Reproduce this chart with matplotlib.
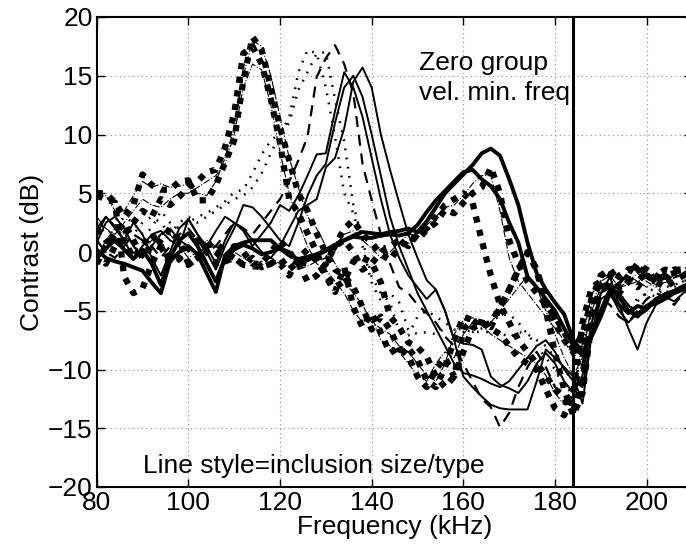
#!/usr/bin/env python3
"""Contrast vs frequency for several inclusion sizes/types."""

import matplotlib

matplotlib.use("Agg")
import matplotlib.pyplot as plt
import numpy as np

plt.rcParams["font.family"] = ["Liberation Sans", "DejaVu Sans"]

# frequency grid (kHz), one sample every 2 kHz from 80 to 210
FREQ = np.arange(80, 212, 2)

# thick solid curves
SOLID_THICK_A = [
    0.2, -0.5, -0.8, -1.0, -1.3, -1.6, -2.6, -3.5, -0.8, 0.0, 0.5,
    -0.2, -1.8, -3.4, -0.3, 0.5, 0.8, 1.0, 1.0, 1.0, 0.3, -0.3,
    -0.6, -0.4, -0.2, 0.2, 0.6, 1.0, 1.4, 1.7, 1.6, 1.5, 1.7,
    1.8, 2.0, 1.7, 2.6, 3.8, 5.0, 5.8, 6.6, 7.4, 8.4, 8.8,
    8.2, 6.2, 4.0, 0.8, -1.8, -3.2, -4.3, -5.3, -7.5, -8.5, -7.2,
    -5.5, -3.5, -4.5, -5.2, -4.6, -4.8, -4.0, -3.6, -3.3, -2.9, -2.6,
]
SOLID_THICK_B = [
    -0.5, 0.3, 1.0, 0.2, -0.6, 0.2, -1.0, -2.8, -0.5, 1.0, 1.6,
    0.5, -1.0, -2.5, -0.5, 0.2, 0.6, 0.3, -0.2, 0.0, 0.3, 0.0,
    -0.8, -0.7, -0.3, 0.1, 0.5, 1.0, 1.3, 1.2, 1.2, 1.4, 1.5,
    1.4, 1.6, 2.3, 3.4, 4.4, 5.2, 6.0, 6.8, 7.0, 6.2, 5.6,
    4.5, 2.5, 0.8, -2.1, -3.0, -4.0, -5.0, -6.5, -8.0, -8.8, -7.0,
    -5.0, -3.2, -3.8, -5.0, -5.5, -4.6, -4.4, -4.0, -3.5, -3.2, -3.0,
]

# thin solid curves
SOLID_THIN_A = [
    2.0, 3.0, 2.2, 1.0, -0.5, 0.5, 1.5, 1.8, 1.0, 0.5, 2.8,
    1.5, 0.5, -1.0, 1.0, 2.5, 1.8, 0.5, 1.5, 2.5, 4.0, 3.5,
    4.8, 6.5, 8.3, 8.4, 12.0, 15.3, 14.0, 11.5, 8.0, 4.5, 1.5,
    -0.5, -2.0, -3.0, -4.0, -3.2, -5.0, -7.5, -10.6, -11.5, -12.3, -13.0,
    -13.3, -13.4, -13.4, -13.4, -11.0, -8.3, -9.0, -9.8, -10.6, -12.9, -7.0,
    -3.5, -2.1, -4.5, -6.5, -8.3, -6.0, -4.5, -3.8, -4.2, -3.5, -3.0,
]
SOLID_THIN_B = [
    0.8, 2.5, 3.0, 2.0, 0.5, -0.5, 0.5, 1.5, 2.0, 1.0, 0.5,
    -0.2, 0.5, 1.8, 3.0, 2.5, 2.0, 1.0, 0.0, -0.5, 0.5, 2.0,
    3.5, 4.0, 4.5, 7.2, 8.0, 10.5, 14.5, 15.7, 14.0, 10.0, 7.0,
    4.2, 1.5, -0.5, -2.4, -3.2, -5.0, -7.5, -7.8, -7.9, -8.3, -10.6,
    -11.3, -11.6, -12.0, -11.0, -9.5, -8.6, -9.5, -11.0, -12.0, -10.5, -6.0,
    -3.5, -3.0, -3.5, -4.5, -5.5, -5.0, -4.2, -3.5, -3.3, -3.0, -2.5,
]
SOLID_THIN_C = [
    1.5, 3.0, 2.0, 1.0, 2.5, 1.5, -0.5, -2.0, 0.0, 2.0, 2.8,
    1.5, 0.0, -1.5, 0.5, 2.0, 4.0, 3.8, 3.0, 2.0, 1.0, 0.5,
    2.5, 4.8, 6.5, 7.5, 11.0, 14.0, 15.0, 13.2, 10.0, 6.5, 3.0,
    0.5, -1.5, -3.5, -5.0, -6.5, -8.0, -9.5, -10.3, -10.5, -10.8, -11.2,
    -11.5, -11.0, -10.0, -9.0, -8.0, -7.5, -8.5, -10.0, -11.0, -11.5, -7.0,
    -4.0, -3.5, -5.0, -6.0, -5.2, -4.5, -4.0, -3.8, -3.3, -3.2, -2.9,
]

# thin dashed curve
DASHED = [
    1.0, 0.0, -0.5, 0.5, 1.5, 1.0, 0.5, -0.5, 0.5, 1.5, 2.0,
    1.0, 0.0, 0.5, 1.5, 2.5, 2.0, 1.5, 2.5, 3.5, 4.5, 6.0,
    7.8, 9.8, 14.9, 16.5, 17.6, 16.0, 13.5, 7.5, 4.4, 1.5, -1.0,
    -3.0, -3.5, -4.5, -5.2, -6.0, -7.2, -8.0, -9.5, -11.0, -12.5, -13.2,
    -14.9, -13.7, -11.5, -9.8, -8.5, -9.8, -11.5, -12.0, -12.5, -9.5, -6.0,
    -4.0, -4.5, -5.5, -6.0, -5.0, -4.0, -3.5, -3.8, -4.5, -3.5, -3.0,
]

# fine dotted curves
DOTTED_A = [
    2.5, 1.5, 2.0, 3.0, 2.5, 1.5, 2.0, 3.5, 2.5, 2.0, 2.5,
    3.0, 3.3, 3.8, 4.3, 5.1, 5.3, 6.7, 8.3, 9.5, 10.1, 11.4,
    15.3, 17.2, 16.9, 14.0, 9.8, 5.0, 3.3, 0.5, -2.6, -4.2, -3.5,
    -4.3, -6.6, -7.0, -6.8, -7.0, -6.5, -6.5, -6.6, -6.8, -6.8, -6.8,
    -6.8, -7.3, -6.8, -7.0, -7.5, -8.0, -9.0, -10.0, -11.0, -9.0, -5.0,
    -3.0, -2.5, -3.5, -4.5, -4.0, -3.5, -3.0, -3.5, -3.0, -2.5, -2.5,
]
DOTTED_B = [
    1.5, 2.5, 3.0, 2.0, 1.5, 2.5, 3.0, 2.5, 1.5, 2.5, 3.0,
    2.5, 3.0, 3.5, 4.0, 4.5, 4.8, 5.5, 6.7, 8.4, 10.0, 11.0,
    13.8, 15.3, 16.9, 17.0, 13.0, 9.4, 4.0, 1.0, -2.1, -3.5, -4.3,
    -6.8, -7.1, -5.5, -5.0, -5.5, -6.0, -6.6, -6.8, -6.8, -6.5, -6.0,
    -5.4, -5.3, -6.0, -7.0, -8.0, -9.0, -10.0, -11.5, -12.0, -8.0, -4.0,
    -2.5, -3.0, -4.0, -5.0, -4.2, -3.5, -3.8, -3.0, -2.8, -2.5, -2.2,
]

# thick dotted curves
THICK_DOT_A = [
    5.0, 5.0, 4.2, 3.0, 4.0, 6.6, 5.7, 5.3, 5.3, 6.0, 6.1,
    4.4, 4.4, 5.7, 7.6, 9.5, 14.6, 18.3, 17.2, 14.0, 10.6, 7.8,
    5.0, 3.5, 1.6, -0.1, -1.5, -2.0, -3.0, -4.7, -6.6, -5.5, -6.6,
    -8.3, -8.2, -9.2, -10.9, -11.5, -9.8, -7.5, -5.5, -5.8, -6.0, -6.4,
    -4.7, -3.2, -1.5, 0.0, -1.5, -4.0, -6.0, -7.5, -8.5, -7.5, -4.0,
    -2.0, -1.5, -2.5, -1.5, -1.3, -1.8, -2.5, -2.0, -1.5, -1.7, -1.2,
]
THICK_DOT_B = [
    2.0, 1.0, 0.5, 1.5, 2.5, 3.5, 3.0, 4.5, 4.0, 4.7, 5.5,
    6.0, 6.8, 7.0, 8.9, 11.8, 16.9, 17.5, 16.0, 13.0, 9.3, 4.5,
    3.3, 1.6, 0.0, -2.1, -3.4, -1.3, -4.7, -6.4, -5.2, -6.9, -8.6,
    -8.1, -8.9, -10.6, -11.5, -10.0, -9.0, -10.6, -8.5, -6.5, -6.0, -6.5,
    -7.0, -8.0, -9.0, -9.5, -10.0, -11.7, -13.3, -13.9, -12.0, -6.0, -3.0,
    -2.5, -3.0, -3.5, -2.5, -3.0, -2.0, -2.5, -3.0, -2.5, -2.0, -1.8,
]
THICK_DOT_C = [
    4.8, 4.5, 4.2, -2.1, -3.5, -3.1, -1.0, 0.5, -0.7, -0.5, -1.1,
    -0.5, 0.5, 0.8, 0.0, -0.5, -1.1, -1.2, -1.3, -1.0, -1.0, -2.0,
    -0.5, 0.2, -0.8, -2.0, -3.0, -2.5, -0.8, -0.5, -0.9, -2.6, -5.5,
    -6.4, -7.7, -8.1, -8.9, -10.6, -11.5, -10.6, -6.6, -5.8, -6.4, -6.0,
    -4.7, -3.2, -1.5, -0.1, -1.5, -5.0, -8.6, -11.7, -13.9, -12.0, -6.0,
    -3.0, -2.0, -3.0, -2.5, -1.5, -2.0, -2.5, -2.0, -1.8, -2.0, -1.5,
]
THICK_DOT_D = [
    -1.0, 0.5, 1.5, 2.5, 1.0, -0.5, 0.5, 1.0, 2.0, 1.0, -1.0,
    -0.5, 0.5, 0.0, -0.8, -0.5, -1.1, -0.5, -1.3, -1.0, -0.5, -1.5,
    -0.8, -1.0, -0.5, -0.8, 0.5, 2.0, 2.7, 1.5, 0.8, -0.2, -0.7,
    0.4, 1.3, 1.0, 1.9, 2.5, 3.6, 3.3, 4.2, 5.0, 5.5, 7.2,
    5.0, 1.0, -1.0, -2.5, -3.5, -4.5, -5.5, -6.8, -8.3, -7.0, -4.0,
    -2.5, -3.5, -2.0, -1.5, -1.8, -2.5, -2.0, -1.5, -1.7, -1.5, -1.0,
]
THICK_DOT_E = [
    0.0, -1.0, 0.5, 1.0, -0.5, 0.5, 1.5, 0.5, -1.0, -0.6, 0.3,
    1.0, 0.0, -1.0, -0.5, 0.5, 0.0, -1.0, -1.0, 0.0, 1.0, 0.0,
    -1.0, -2.5, -2.0, -1.0, 0.5, 1.0, 0.0, -1.5, -1.0, 0.0, 0.5,
    1.0, 0.5, 1.5, 2.0, 3.0, 4.0, 4.5, 5.0, 4.2, 1.0, -2.0,
    -4.5, -6.0, -7.5, -8.5, -9.5, -10.5, -11.7, -12.5, -13.5, -11.0, -5.0,
    -2.0, -1.5, -3.0, -2.0, -1.0, -1.5, -2.0, -2.5, -1.5, -1.5, -1.2,
]

# thin dash-dot curves
DASHDOT_A = [
    4.5, 4.8, 3.5, 3.5, 4.8, 6.0, 5.5, 5.8, 5.5, 5.6, 5.8,
    5.0, 4.8, 6.0, 8.0, 10.5, 15.0, 18.0, 17.5, 15.0, 11.5, 8.0,
    5.5, 3.0, 2.0, 0.5, -1.0, -2.5, -3.5, -4.5, -6.0, -6.5, -7.0,
    -8.0, -8.5, -9.5, -10.5, -11.0, -9.5, -7.0, -5.8, -5.6, -5.8, -6.0,
    -5.0, -4.0, -3.0, -2.0, -3.0, -5.0, -7.0, -9.0, -10.5, -9.0, -4.5,
    -2.5, -2.0, -3.0, -2.5, -1.8, -2.5, -3.0, -2.2, -2.0, -2.0, -1.6,
]
DASHDOT_B = [
    -0.5, 1.0, 2.0, 1.5, 0.5, 0.0, 1.0, 1.5, 1.5, 0.5, -0.5,
    0.0, 1.0, 0.5, -0.5, 0.0, -0.5, -1.0, -0.8, -0.5, -1.0, -1.2,
    -1.5, -1.2, -0.8, -0.5, 0.5, 1.5, 1.8, 1.0, 0.3, -0.5, 0.0,
    0.8, 1.5, 1.5, 2.3, 3.0, 3.8, 4.0, 4.8, 5.8, 6.5, 6.5,
    3.5, -0.5, -2.5, -3.5, -4.5, -5.5, -6.5, -7.5, -9.0, -8.0, -5.0,
    -3.0, -3.8, -2.5, -2.0, -2.5, -3.0, -2.5, -2.0, -2.2, -1.8, -1.4,
]
DASHDOT_C = [
    3.0, 2.0, 1.5, 2.5, 3.5, 4.5, 4.0, 3.8, 4.5, 5.0, 5.0,
    5.5, 6.0, 6.5, 7.5, 10.0, 14.0, 16.0, 15.5, 12.5, 8.5, 5.0,
    2.5, 0.5, -1.0, -1.5, -2.5, -3.5, -5.0, -6.0, -5.5, -7.5, -8.0,
    -8.5, -9.5, -10.5, -11.0, -9.5, -8.5, -9.0, -7.0, -6.0, -6.2, -7.0,
    -7.5, -8.0, -8.5, -9.0, -9.5, -10.5, -12.0, -13.0, -12.5, -7.5, -3.5,
    -2.8, -3.2, -3.0, -2.8, -2.5, -2.2, -2.8, -2.6, -2.2, -2.0, -1.8,
]

ZERO_GROUP_FREQ = 184.0
X_TICKS = [80, 100, 120, 140, 160, 180, 200]
Y_TICKS = [-20, -15, -10, -5, 0, 5, 10, 15, 20]
FONT_SIZE = 19

STYLES = {
    "solid_thick": dict(linestyle="-", linewidth=2.8),
    "solid_thin": dict(linestyle="-", linewidth=1.4),
    "dashed": dict(linestyle=(0, (5, 3.5)), linewidth=1.6),
    "dotted": dict(linestyle=(0, (0.7, 3.0)), linewidth=1.8),
    "thick_dot": dict(linestyle=(0, (1.0, 1.2)), linewidth=4.5),
    "dashdot": dict(linestyle="-.", linewidth=0.8),
}

CURVES = [
    (DASHDOT_A, "dashdot"),
    (DASHDOT_B, "dashdot"),
    (DASHDOT_C, "dashdot"),
    (DOTTED_A, "dotted"),
    (DOTTED_B, "dotted"),
    (DASHED, "dashed"),
    (SOLID_THIN_A, "solid_thin"),
    (SOLID_THIN_B, "solid_thin"),
    (SOLID_THIN_C, "solid_thin"),
    (SOLID_THICK_A, "solid_thick"),
    (SOLID_THICK_B, "solid_thick"),
    (THICK_DOT_A, "thick_dot"),
    (THICK_DOT_B, "thick_dot"),
    (THICK_DOT_C, "thick_dot"),
    (THICK_DOT_D, "thick_dot"),
    (THICK_DOT_E, "thick_dot"),
]


def main() -> None:
    fig = plt.figure(figsize=(6.86, 5.52), dpi=100)
    # axes run slightly past the right edge, as in the original export
    ax = fig.add_axes([96.7 / 686, 65 / 552, 595.8 / 686, 470 / 552])

    for values, style in CURVES:
        ax.plot(FREQ, values, color="black", dash_capstyle="butt", **STYLES[style])

    ax.axvline(ZERO_GROUP_FREQ, color="black", linewidth=2.2)

    ax.set_xlim(80, 210)
    ax.set_ylim(-20, 20)
    ax.set_xticks(X_TICKS)
    ax.set_yticks(Y_TICKS)
    ax.grid(True, color="#8c8c8c", linestyle=(0, (1, 3)), linewidth=0.8)
    ax.set_axisbelow(True)
    ax.tick_params(direction="in", length=6, width=1.0, labelsize=FONT_SIZE,
                   top=True, right=True, pad=3)
    for spine in ax.spines.values():
        spine.set_linewidth(1.5)

    ax.set_xlabel("Frequency (kHz)", fontsize=FONT_SIZE, labelpad=0)
    ax.set_ylabel("Contrast (dB)", fontsize=FONT_SIZE, labelpad=3)

    ax.text(150.3, 15.5, "Zero group", fontsize=FONT_SIZE, ha="left", va="baseline")
    ax.text(150.3, 12.95, "vel. min. freq", fontsize=FONT_SIZE, ha="left", va="baseline")
    ax.text(90.1, -18.8, "Line style=inclusion size/type", fontsize=FONT_SIZE,
            ha="left", va="baseline")

    fig.savefig("out.png", dpi=100)
    plt.close(fig)


if __name__ == "__main__":
    main()
